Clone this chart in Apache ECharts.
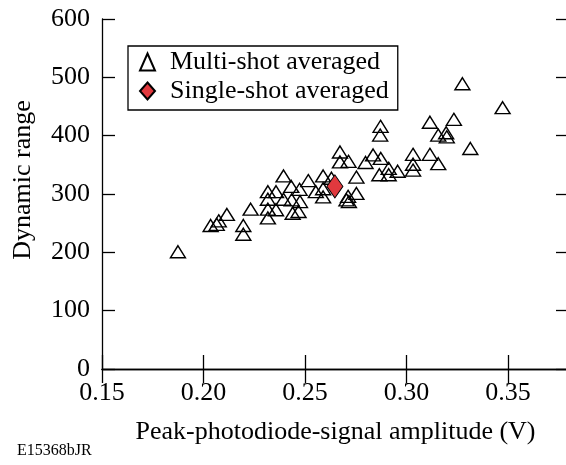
<!DOCTYPE html>
<html>
<head>
<meta charset="utf-8">
<script src="https://cdn.jsdelivr.net/npm/echarts@6/dist/echarts.min.js"></script>
<style>
html,body{margin:0;padding:0;background:#fff;}
#chart{width:566px;height:465px;}
</style>
</head>
<body>
<div id="chart"></div>
<script>
const xTicks = [0.15, 0.20, 0.25, 0.30, 0.35];
const yTicks = [0, 100, 200, 300, 400, 500, 600];
const multiX = [0.1874,0.2035,0.2065,0.2075,0.2115,0.2196,0.2196,0.2232,0.2317,0.2317,0.2317,0.2317,0.2357,0.2357,0.2394,0.2394,0.2432,0.2434,0.2439,0.2473,0.2475,0.2468,0.2516,0.2553,0.2589,0.2589,0.2589,0.2630,0.2672,0.2672,0.2714,0.2704,0.2712,0.2716,0.2753,0.2753,0.2798,0.2835,0.2872,0.2870,0.2873,0.2866,0.2912,0.2912,0.2956,0.3032,0.3032,0.3032,0.3115,0.3115,0.3156,0.3156,0.3195,0.3198,0.3233,0.3275,0.3314,0.3473];
const multiY = [201,246,248,254,265,246,231,274,259,274,304,291,304,273,331,291,313,290,267,308,287,270,323,304,331,309,295,327,372,355,356,290,296,287,329,301,354,367,416,401,361,333,344,333,339,368,351,341,423,368,352,401,405,398,428,489,378,448];
const singleX = [0.2647];
const singleY = [313];
const seriesNames = ['Multi-shot averaged', 'Single-shot averaged'];

const FONT = '"Liberation Serif", "Times New Roman", serif';
const FS = 26;
const chart = echarts.init(document.getElementById('chart'), null, {renderer: 'canvas'});
const axisLine = {show: true, lineStyle: {color: '#000', width: 1.3}};
const fmtX = v => (xTicks.some(t => Math.abs(t - v) < 1e-6) ? v.toFixed(2) : '');

chart.setOption({
  animation: false,
  backgroundColor: '#fff',
  grid: {left: 102, right: -3, top: 19, bottom: 96, outerBoundsMode: 'none', containLabel: false},
  legend: {
    orient: 'vertical', left: 128, top: 46,
    padding: [3, 9, 6, 11], itemGap: 3,
    itemWidth: 15, itemHeight: 17,
    borderColor: '#000', borderWidth: 1.3,
    textStyle: {fontFamily: FONT, fontSize: FS, color: '#000', padding: [0, 0, 0, 10]},
    data: seriesNames
  },
  xAxis: [{
    type: 'value', min: 0.15, max: 0.38, interval: 0.05,
    axisLine: axisLine,
    axisTick: {show: true, inside: true, length: 14, lineStyle: {color: '#000', width: 1.3}},
    axisLabel: {fontFamily: FONT, fontSize: FS, color: '#000', margin: 11, formatter: fmtX, showMaxLabel: false},
    splitLine: {show: false},
    name: 'Peak-photodiode-signal amplitude (V)', nameLocation: 'middle', nameGap: 50,
    nameTextStyle: {fontFamily: FONT, fontSize: FS, color: '#000'}
  }, {
    type: 'value', position: 'top', min: 0.15, max: 0.38, interval: 0.05,
    axisLine: axisLine,
    axisTick: {show: true, inside: true, length: 14, lineStyle: {color: '#000', width: 1.3}},
    axisLabel: {show: false}, splitLine: {show: false}
  }],
  yAxis: [{
    type: 'value', min: 0, max: 600, interval: 100,
    axisLine: axisLine,
    axisTick: {show: true, inside: true, length: 13, lineStyle: {color: '#000', width: 1.3}},
    axisLabel: {fontFamily: FONT, fontSize: FS, color: '#000', margin: 12},
    splitLine: {show: false},
    name: 'Dynamic range', nameLocation: 'middle', nameGap: 66,
    nameTextStyle: {fontFamily: FONT, fontSize: FS, color: '#000', padding: [0, 0, 0, 28]}
  }, {
    type: 'value', position: 'right', min: 0, max: 600, interval: 100,
    axisLine: axisLine,
    axisTick: {show: true, inside: true, length: 13, lineStyle: {color: '#000', width: 1.3}},
    axisLabel: {show: false}, splitLine: {show: false}
  }],
  graphic: [{
    type: 'text', left: 17, top: 443,
    style: {text: 'E15368bJR', fontFamily: FONT, fontSize: 16, fill: '#000'}
  }],
  series: [{
    name: seriesNames[0], type: 'scatter',
    symbol: 'triangle', symbolSize: [15, 12],
    itemStyle: {color: 'rgba(255,255,255,0)', borderColor: '#000', borderWidth: 1.4, opacity: 1},
    emphasis: {disabled: true},
    data: multiX.map((x, i) => [x, multiY[i]]),
    z: 2
  }, {
    name: seriesNames[1], type: 'scatter',
    symbol: 'diamond', symbolSize: [16, 23],
    itemStyle: {color: '#e0393e', borderColor: '#000', borderWidth: 1, opacity: 1},
    emphasis: {disabled: true},
    data: singleX.map((x, i) => [x, singleY[i]]),
    z: 3
  }]
});
</script>
</body>
</html>
